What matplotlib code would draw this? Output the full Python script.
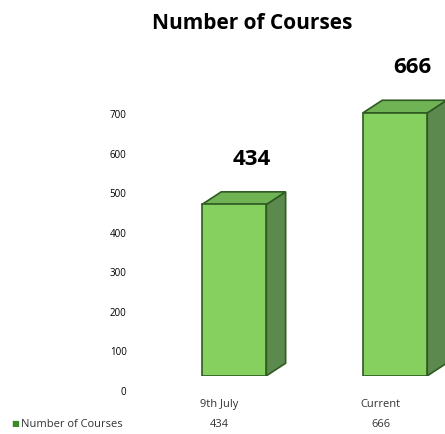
import matplotlib.pyplot as plt
import matplotlib.transforms as mtransforms
from matplotlib.patches import Polygon

categories = ["9th July", "Current"]
table_values = ["434", "666"]
courses = [434, 666]
series_name = "Number of Courses"

plt.rcParams['font.family'] = ['Open Sans', 'DejaVu Sans']

fig = plt.figure(figsize=(4.45, 4.34), dpi=100)
ax = fig.add_axes([0.30, 0.134, 0.70, 0.655])

front = "#86d060"
side = "#5c8a4e"
top = "#6fb355"
edge = "#2f5a22"
w = 0.4
dx, dy = 0.12, 32

xs = list(range(len(courses)))
ax.bar(xs, courses, width=w, color=front, edgecolor=edge, linewidth=1.2, zorder=3)
for x, v in zip(xs, courses):
    r = x + w / 2
    l = x - w / 2
    ax.add_patch(Polygon([(r, 0), (r + dx, dy), (r + dx, v + dy), (r, v)],
                         closed=True, facecolor=side, edgecolor=edge, lw=1.2, zorder=2))
    ax.add_patch(Polygon([(l, v), (l + dx, v + dy), (r + dx, v + dy), (r, v)],
                         closed=True, facecolor=top, edgecolor=edge, lw=1.2, zorder=2))
    ax.text(x + 0.11, v + 115, str(v), ha='center', va='center', fontsize=16,
            fontweight='bold', clip_on=False)

ax.set_xlim(-0.625, 1.31)
ax.set_ylim(0, 720)
ax.set_yticks(range(0, 800, 100))
ax.tick_params(axis='y', length=0, labelsize=7, pad=5)
# the 3D floor pushes the value axis labels a little lower than the bar bases
shift = mtransforms.ScaledTranslation(0, -15 / 100, fig.dpi_scale_trans)
for lab in ax.get_yticklabels():
    lab.set_transform(lab.get_transform() + shift)
ax.set_xticks([])
for s in ax.spines.values():
    s.set_visible(False)

# category labels and data table row under the chart
trans = ax.get_xaxis_transform()
for x, c, t in zip(xs, categories, table_values):
    ax.text(x - 0.09, -0.102, c, transform=trans, ha='center', va='center',
            fontsize=8, color="#333333", clip_on=False)
    ax.text(x - 0.09, -0.172, t, transform=trans, ha='center', va='center',
            fontsize=8, color="#333333", clip_on=False)
fig.text(0.025, 0.022, "\u25a0", color="#3a8a2a", fontsize=6, va='center')
fig.text(0.048, 0.022, series_name, fontsize=8, va='center', color="#333333")

fig.suptitle("Number of Courses", y=0.97, fontsize=15, fontweight='bold', x=0.567)

fig.savefig("out.png", dpi=100)
